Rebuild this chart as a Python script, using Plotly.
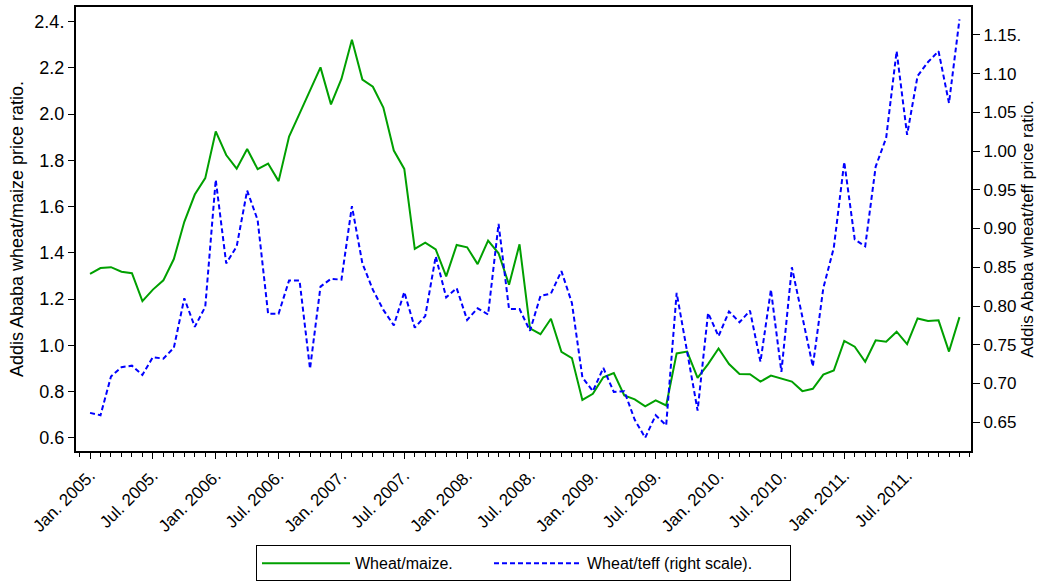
import plotly.graph_objects as go

# Monthly data, Jan. 2005 - Dec. 2011
start_year = 2005
wheat_maize = [1.309, 1.334, 1.338, 1.318, 1.312, 1.191, 1.241, 1.281, 1.373, 1.534, 1.652, 1.723,
               1.925, 1.823, 1.764, 1.849, 1.762, 1.786, 1.710, 1.903, 2.002, 2.103, 2.202, 2.042,
               2.152, 2.321, 2.149, 2.118, 2.028, 1.842, 1.763, 1.417, 1.444, 1.415, 1.298, 1.434,
               1.424, 1.351, 1.453, 1.398, 1.262, 1.437, 1.073, 1.048, 1.115, 0.972, 0.945, 0.764,
               0.790, 0.862, 0.880, 0.783, 0.766, 0.736, 0.762, 0.740, 0.965, 0.973, 0.859, 0.919,
               0.986, 0.919, 0.876, 0.875, 0.843, 0.869, 0.856, 0.843, 0.802, 0.812, 0.873, 0.891,
               1.019, 0.994, 0.929, 1.022, 1.016, 1.059, 1.005, 1.116, 1.105, 1.108, 0.973, 1.122]
wheat_teff = [0.662, 0.659, 0.709, 0.721, 0.723, 0.711, 0.734, 0.732, 0.746, 0.810, 0.773, 0.799,
              0.963, 0.855, 0.877, 0.949, 0.911, 0.790, 0.790, 0.833, 0.833, 0.719, 0.825, 0.835,
              0.834, 0.929, 0.855, 0.821, 0.795, 0.775, 0.818, 0.772, 0.787, 0.864, 0.811, 0.823,
              0.782, 0.797, 0.789, 0.906, 0.796, 0.796, 0.768, 0.813, 0.816, 0.845, 0.804, 0.708,
              0.690, 0.720, 0.689, 0.690, 0.653, 0.630, 0.659, 0.646, 0.817, 0.741, 0.665, 0.791,
              0.761, 0.793, 0.779, 0.794, 0.728, 0.821, 0.715, 0.850, 0.787, 0.722, 0.823, 0.875,
              0.986, 0.886, 0.877, 0.980, 1.017, 1.129, 1.021, 1.097, 1.115, 1.129, 1.062, 1.170]

months = list(range(len(wheat_maize)))
x_tick_vals = list(range(0, 79, 6))
x_tick_text = [("Jan. " if (m % 12) == 0 else "Jul. ") + str(start_year + m // 12) + "." for m in x_tick_vals]

left_tick_vals = [0.6, 0.8, 1.0, 1.2, 1.4, 1.6, 1.8, 2.0, 2.2, 2.4]
left_tick_text = ["0.6", "0.8", "1.0", "1.2", "1.4", "1.6", "1.8", "2.0", "2.2", "2.4."]
right_tick_vals = [0.65, 0.70, 0.75, 0.80, 0.85, 0.90, 0.95, 1.00, 1.05, 1.10, 1.15]
right_tick_text = ["0.65", "0.70", "0.75", "0.80", "0.85", "0.90", "0.95", "1.00", "1.05", "1.10", "1.15."]

FONT = "Liberation Sans, Arial, sans-serif"

fig = go.Figure()
fig.add_trace(go.Scatter(x=months, y=wheat_maize, mode="lines", name="Wheat/maize.",
                         legendwidth=129,
                         line=dict(color="rgb(0,160,0)", width=2)))
fig.add_trace(go.Scatter(x=months, y=wheat_teff, mode="lines", name="Wheat/teff (right scale).",
                         yaxis="y2", legendwidth=198,
                         line=dict(color="rgb(0,0,255)", width=2, dash="5px,3px")))

fig.update_layout(
    width=1042, height=588,
    margin=dict(l=76, r=71, t=7, b=134),
    paper_bgcolor="white", plot_bgcolor="white",
    font=dict(family=FONT, size=18, color="black"),
    showlegend=True,
    legend=dict(orientation="h", x=0.5, xanchor="center", y=-0.2125, yanchor="top",
                bordercolor="black", borderwidth=1, itemwidth=88,
                font=dict(family=FONT, size=16, color="black")),
    xaxis=dict(range=[-1.34, 84.1], tickmode="array", tickvals=x_tick_vals, ticktext=x_tick_text,
               tickangle=-45, ticks="outside", ticklen=6, tickwidth=1, tickcolor="black",
               showline=True, linecolor="black", linewidth=2, mirror=True,
               showgrid=False, zeroline=False, automargin=False,
               minor=dict(dtick=1, tick0=0, ticks="outside", ticklen=4, tickwidth=1, tickcolor="black",
                          showgrid=False),
               tickfont=dict(family=FONT, size=17)),
    yaxis=dict(range=[0.543, 2.463], tickmode="array", tickvals=left_tick_vals, ticktext=left_tick_text,
               ticks="outside", ticklen=6, tickcolor="black", automargin=False,
               showline=True, linecolor="black", linewidth=2, showgrid=False, zeroline=False,
               tickfont=dict(family=FONT, size=18),
               title=dict(text="Addis Ababa wheat/maize price ratio.", standoff=6,
                          font=dict(family=FONT, size=18))),
    yaxis2=dict(range=[0.6128, 1.186], overlaying="y", side="right", tickmode="array",
                tickvals=right_tick_vals, ticktext=right_tick_text, automargin=False,
                ticks="outside", ticklen=7, tickcolor="black",
                showline=True, linecolor="black", linewidth=2, showgrid=False, zeroline=False,
                tickfont=dict(family=FONT, size=17),
                title=dict(text="Addis Ababa wheat/teff price ratio.", standoff=1,
                           font=dict(family=FONT, size=17))),
)

fig.write_html("out.html", config={"displayModeBar": False},
               post_script="document.body.style.margin='0px';")
